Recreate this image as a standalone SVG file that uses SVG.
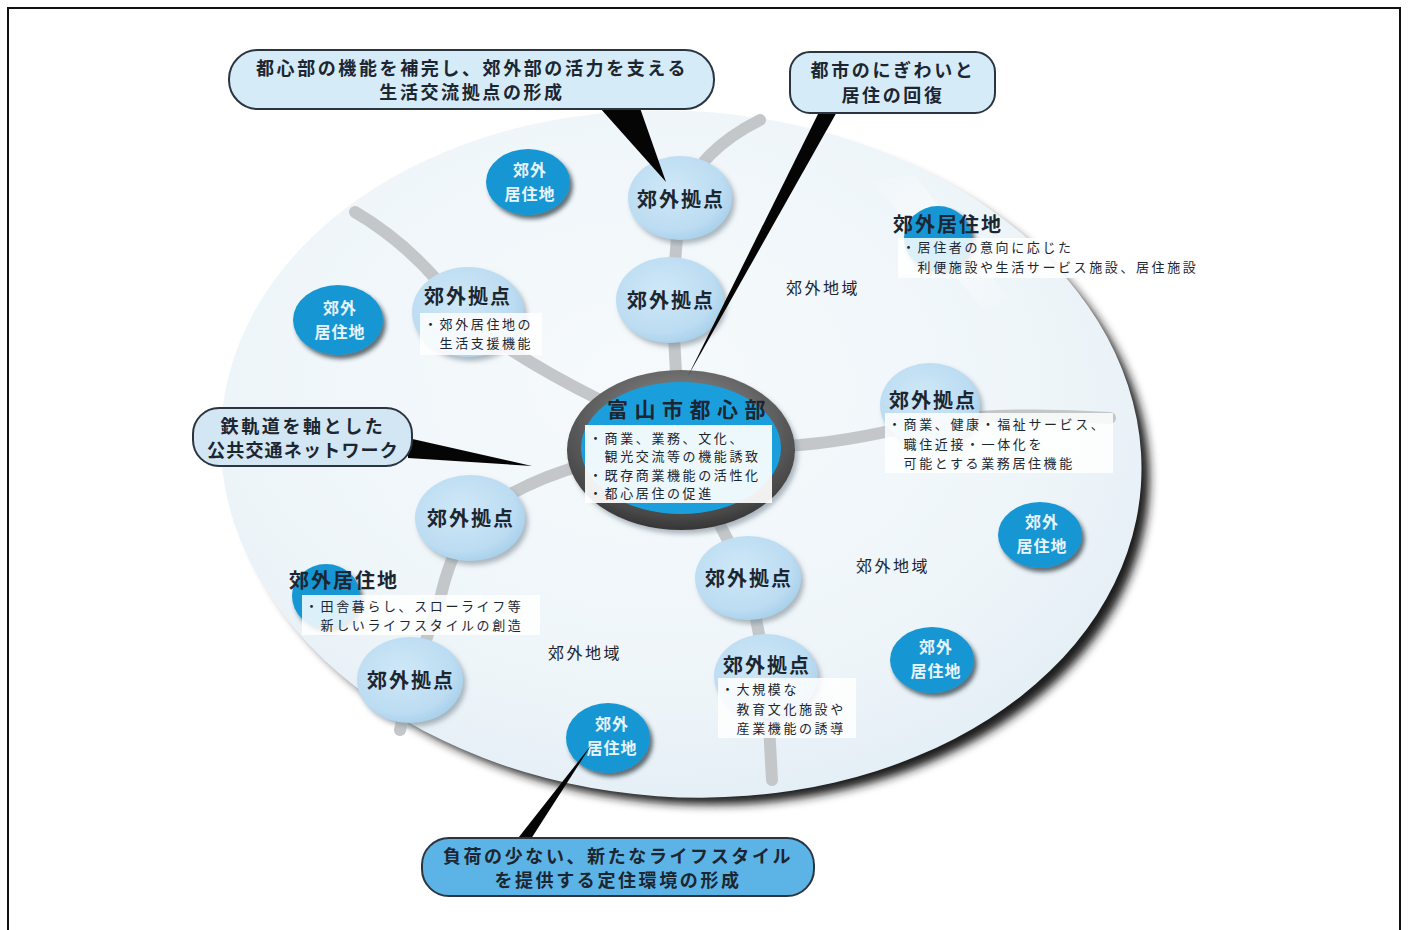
<svg xmlns="http://www.w3.org/2000/svg" width="1409" height="930" viewBox="0 0 1409 930">
<style>
.jp{font-family:"Noto Sans CJK JP","Noto Sans CJK SC",sans-serif;fill:#1c2630}
.co{font-size:18px;font-weight:bold;letter-spacing:2.6px;text-anchor:middle}
.lb{font-size:20px;font-weight:bold;letter-spacing:2px}
.lbc{font-size:20px;font-weight:bold;letter-spacing:2px;text-anchor:middle}
.rs{font-size:16px;font-weight:bold;letter-spacing:1px;text-anchor:middle;fill:#e8f4fb}
.ds{font-size:13px;letter-spacing:2.6px}
.ar{font-size:16px;letter-spacing:2.5px;text-anchor:middle}
.road{fill:none;stroke:#c3c7c9;stroke-width:12;stroke-linecap:round}
.hub{fill:url(#hubG);filter:url(#sh)}
.res{fill:#1797d4;filter:url(#sh2)}
.box{fill:#ffffff;opacity:0.85}
.call{stroke:#2a3540;stroke-width:2}
.ptr{fill:#050505}
</style>
<defs>
<radialGradient id="bgG" cx="0.45" cy="0.4" r="0.65">
<stop offset="0" stop-color="#f6fafc"/>
<stop offset="0.7" stop-color="#eef5f9"/>
<stop offset="1" stop-color="#e2edf5"/>
</radialGradient>
<radialGradient id="hubG" cx="0.42" cy="0.4" r="0.65">
<stop offset="0" stop-color="#cfe8f7"/>
<stop offset="0.75" stop-color="#bcdcf2"/>
<stop offset="1" stop-color="#a5cfea"/>
</radialGradient>
<radialGradient id="ringG" cx="0.5" cy="0.35" r="0.7">
<stop offset="0" stop-color="#9a9a9a"/>
<stop offset="0.8" stop-color="#4a4a4a"/>
<stop offset="1" stop-color="#2a2a2a"/>
</radialGradient>
<linearGradient id="hiG" x1="0" y1="0" x2="1" y2="1">
<stop offset="0" stop-color="#ffffff" stop-opacity="0"/>
<stop offset="0.5" stop-color="#ffffff" stop-opacity="0.9"/>
<stop offset="1" stop-color="#ffffff" stop-opacity="0"/>
</linearGradient>
<filter id="sh" x="-20%" y="-20%" width="150%" height="150%">
<feDropShadow dx="3" dy="4" stdDeviation="2.5" flood-color="#7d8a94" flood-opacity="0.6"/>
</filter>
<filter id="sh2" x="-20%" y="-20%" width="150%" height="150%">
<feDropShadow dx="3" dy="4" stdDeviation="2" flood-color="#23323c" flood-opacity="0.7"/>
</filter>
<filter id="blur" x="-10%" y="-10%" width="120%" height="120%">
<feGaussianBlur stdDeviation="5"/>
</filter>
</defs>
<rect x="0" y="0" width="1409" height="930" fill="#ffffff"/>
<rect x="8" y="8" width="1392" height="940" fill="none" stroke="#111" stroke-width="2"/>

<g id="region">
<ellipse cx="692" cy="464" rx="458" ry="340" transform="rotate(4 692 464)" fill="#1a1a1a" filter="url(#blur)"/>
<ellipse cx="681" cy="454" rx="461" ry="343" transform="rotate(4 681 454)" fill="url(#bgG)"/>
<path d="M870 180 L915 175 L1010 300 L985 310 Z" fill="url(#hiG)" opacity="0.7"/>
<text class="jp ar" x="823" y="294">郊外地域</text>
<text class="jp ar" x="893" y="572">郊外地域</text>
<text class="jp ar" x="585" y="659">郊外地域</text>
</g>

<g id="connectors">
<path class="road" d="M680 445 L672 300 L680 200 Q700 150 760 120"/>
<path class="road" d="M600 400 Q520 360 468 320 Q420 250 355 212"/>
<path class="road" d="M680 450 L800 445 Q860 440 935 420 Q1020 412 1110 418"/>
<path class="road" d="M680 450 Q560 455 472 518 Q448 560 440 600 L412 680 L400 730"/>
<path class="road" d="M680 450 L748 578 L766 670 L772 780"/>
</g>

<g id="center">
<ellipse cx="681" cy="450" rx="114" ry="80" fill="url(#ringG)" filter="url(#sh)"/>
<ellipse cx="681" cy="448" rx="100" ry="66" fill="#1a9fdc"/>
<text class="jp" x="607" y="417" font-size="21" letter-spacing="6.5" fill="#102638" font-weight="bold">富山市都心部</text>
<rect x="585" y="425" width="187" height="78" fill="#ffffff" opacity="0.92"/>
<text class="jp ds" x="589" y="443">・商業、業務、文化、</text>
<text class="jp ds" x="589" y="461">　観光交流等の機能誘致</text>
<text class="jp ds" x="589" y="480">・既存商業機能の活性化</text>
<text class="jp ds" x="589" y="498">・都心居住の促進</text>
</g>

<g id="hub1"><ellipse class="hub" cx="680" cy="198" rx="52" ry="42"/><text class="jp lbc" x="681" y="207">郊外拠点</text></g>
<g id="hub2"><ellipse class="hub" cx="670" cy="300" rx="54" ry="43"/><text class="jp lbc" x="671" y="308">郊外拠点</text></g>
<g id="hub3"><ellipse class="hub" cx="468" cy="312" rx="56" ry="45"/><text class="jp lb" x="424" y="304">郊外拠点</text>
<rect class="box" x="420" y="313" width="122" height="42"/>
<text class="jp ds" x="424" y="329">・郊外居住地の</text><text class="jp ds" x="424" y="348">　生活支援機能</text></g>
<g id="hub4"><ellipse class="hub" cx="930" cy="405" rx="50" ry="42"/><text class="jp lb" x="889" y="408">郊外拠点</text>
<rect class="box" x="885" y="413" width="228" height="60"/>
<text class="jp ds" x="888" y="429">・商業、健康・福祉サービス、</text><text class="jp ds" x="888" y="449">　職住近接・一体化を</text><text class="jp ds" x="888" y="468">　可能とする業務居住機能</text></g>
<g id="hub5"><ellipse class="hub" cx="470" cy="518" rx="55" ry="43"/><text class="jp lbc" x="471" y="526">郊外拠点</text></g>
<g id="hub6"><ellipse class="hub" cx="748" cy="578" rx="53" ry="42"/><text class="jp lbc" x="749" y="586">郊外拠点</text></g>
<g id="hub7"><ellipse class="hub" cx="410" cy="680" rx="53" ry="43"/><text class="jp lbc" x="411" y="688">郊外拠点</text></g>
<g id="hub8"><ellipse class="hub" cx="766" cy="676" rx="52" ry="42"/><text class="jp lb" x="723" y="673">郊外拠点</text>
<rect class="box" x="718" y="678" width="138" height="60"/>
<text class="jp ds" x="721" y="694">・大規模な</text><text class="jp ds" x="721" y="714">　教育文化施設や</text><text class="jp ds" x="721" y="733">　産業機能の誘導</text></g>

<g id="res1"><ellipse class="res" cx="528" cy="182" rx="42" ry="33"/><text class="jp rs" x="530" y="176">郊外</text><text class="jp rs" x="530" y="200">居住地</text></g>
<g id="res2"><ellipse class="res" cx="338" cy="320" rx="45" ry="35"/><text class="jp rs" x="340" y="314">郊外</text><text class="jp rs" x="340" y="338">居住地</text></g>
<g id="res3"><ellipse class="res" cx="938" cy="238" rx="34" ry="32"/><text class="jp lb" x="893" y="232">郊外居住地</text>
<rect class="box" x="898" y="238" width="324" height="40" opacity="0.6"/>
<text class="jp ds" x="902" y="252">・居住者の意向に応じた</text><text class="jp ds" x="902" y="272">　利便施設や生活サービス施設、居住施設</text></g>
<g id="res4"><ellipse class="res" cx="1040" cy="535" rx="42" ry="33"/><text class="jp rs" x="1042" y="528">郊外</text><text class="jp rs" x="1042" y="552">居住地</text></g>
<g id="res5"><ellipse class="res" cx="932" cy="660" rx="42" ry="33"/><text class="jp rs" x="936" y="653">郊外</text><text class="jp rs" x="936" y="677">居住地</text></g>
<g id="res6"><ellipse class="res" cx="608" cy="738" rx="42" ry="35"/><text class="jp rs" x="612" y="730">郊外</text><text class="jp rs" x="612" y="754">居住地</text></g>
<g id="res7"><ellipse class="res" cx="326" cy="596" rx="34" ry="32"/><text class="jp lb" x="289" y="588">郊外居住地</text>
<rect class="box" x="302" y="595" width="238" height="40" opacity="0.85"/>
<text class="jp ds" x="305" y="611">・田舎暮らし、スローライフ等</text><text class="jp ds" x="305" y="630">　新しいライフスタイルの創造</text></g>

<g id="callout1">
<path class="ptr" d="M600 108 L640 108 L666 182 Z"/>
<rect class="call" x="229" y="50" width="485" height="59" rx="29" fill="#d6ebf8"/>
<text class="jp co" x="472" y="75">都心部の機能を補完し、郊外部の活力を支える</text>
<text class="jp co" x="472" y="99">生活交流拠点の形成</text>
</g>
<g id="callout2">
<path class="ptr" d="M820 110 L838 110 L688 376 Z"/>
<rect class="call" x="790" y="52" width="205" height="61" rx="20" fill="#d6ebf8"/>
<text class="jp co" x="893" y="77">都市のにぎわいと</text>
<text class="jp co" x="893" y="102">居住の回復</text>
</g>
<g id="callout3">
<path class="ptr" d="M408 438 L408 458 L532 466 Z"/>
<rect class="call" x="193" y="408" width="219" height="58" rx="26" fill="#d3e6f3"/>
<text class="jp co" x="303" y="433">鉄軌道を軸とした</text>
<text class="jp co" x="303" y="457" style="letter-spacing:1.2px">公共交通ネットワーク</text>
</g>
<g id="callout4">
<path class="ptr" d="M515 842 L529 842 L592 744 Z"/>
<rect class="call" x="422" y="838" width="392" height="58" rx="27" fill="#5cb4e6"/>
<text class="jp co" x="618" y="863">負荷の少ない、新たなライフスタイル</text>
<text class="jp co" x="618" y="887">を提供する定住環境の形成</text>
</g>
</svg>
